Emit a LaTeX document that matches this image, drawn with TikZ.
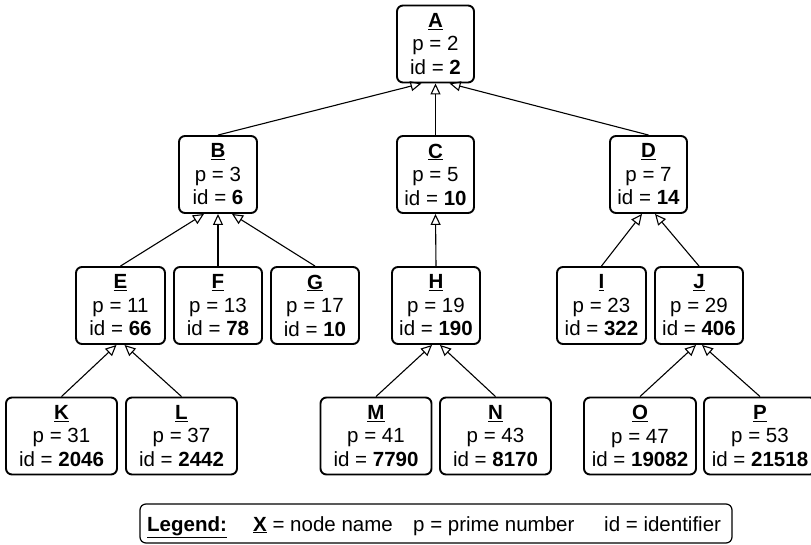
\documentclass[tikz,border=0pt]{standalone}
\usepackage{fontspec}
\setmainfont{Liberation Sans}
\usetikzlibrary{arrows.meta}

\newcommand{\treebox}[5]{%
  % #1 name, #2 x, #3 y, #4 width, #5 p and id
  \node[treenode, minimum width=#4pt] (#1) at (#2,#3) {#5};}
\newcommand{\nodetext}[3]{\underline{\textbf{#1}}\\p = #2\\id = \textbf{#3}}

\begin{document}
\begin{tikzpicture}[x=1pt, y=-1pt,
  treenode/.style={draw, line width=1.9pt, rounded corners=6pt,
    minimum height=77pt, inner sep=0pt, align=center,
    font=\fontsize{20.5}{23.5}\selectfont},
  edge/.style={line width=1.1pt, -{Triangle[open, length=11pt, width=10pt, line width=1.1pt]}},
  legendbox/.style={draw, line width=1.2pt, rounded corners=6pt},
  legendtext/.style={anchor=base west, inner sep=0pt, font=\fontsize{20.5}{23.5}\selectfont}]

\useasboundingbox (0,0) rectangle (811,545);

% root
\treebox{A}{435.5}{44}{77}{\nodetext{A}{2}{2}}
% second level
\treebox{B}{218}{174.5}{78}{\nodetext{B}{3}{6}}
\treebox{C}{435.5}{174.5}{77}{\nodetext{C}{5}{10}}
\treebox{D}{648.5}{174.5}{77}{\nodetext{D}{7}{14}}
% third level
\treebox{E}{120.5}{305.5}{89}{\nodetext{E}{11}{66}}
\treebox{F}{218}{305.5}{88}{\nodetext{F}{13}{78}}
\treebox{G}{315}{305.5}{88}{\nodetext{G}{17}{10}}
\treebox{H}{436}{305.5}{88}{\nodetext{H}{19}{190}}
\treebox{I}{601.5}{305.5}{89}{\nodetext{I}{23}{322}}
\treebox{J}{699}{305.5}{88}{\nodetext{J}{29}{406}}
% leaves
\treebox{K}{61.5}{436}{111}{\nodetext{K}{31}{2046}}
\treebox{L}{181.5}{436}{111}{\nodetext{L}{37}{2442}}
\treebox{M}{376}{436}{111}{\nodetext{M}{41}{7790}}
\treebox{N}{495.5}{436}{111}{\nodetext{N}{43}{8170}}
\treebox{O}{640}{436}{112}{\nodetext{O}{47}{19082}}
\treebox{P}{760}{436}{112}{\nodetext{P}{53}{21518}}

% parent links
\draw[edge] (B.north) -- ([xshift=-14pt]A.south);
\draw[edge] (C.north) -- (A.south);
\draw[edge] (D.north) -- ([xshift=14pt]A.south);

\draw[edge] (E.north) -- ([xshift=-14pt]B.south);
\draw[edge] (F.north) -- (B.south);
\draw[edge] (G.north) -- ([xshift=14pt]B.south);

\draw[edge] (H.north) -- (C.south);

\draw[edge] (I.north) -- ([xshift=-6.5pt]D.south);
\draw[edge] (J.north) -- ([xshift=6.5pt]D.south);

\draw[edge] (K.north) -- ([xshift=-4pt]E.south);
\draw[edge] (L.north) -- ([xshift=4pt]E.south);

\draw[edge] (M.north) -- ([xshift=-4pt]H.south);
\draw[edge] (N.north) -- ([xshift=4pt]H.south);

\draw[edge] (O.north) -- ([xshift=-3pt]J.south);
\draw[edge] (P.north) -- ([xshift=3pt]J.south);

% legend
\node[legendbox, minimum width=592pt, minimum height=39pt] (legend) at (436,523.5) {};
\node[legendtext] (lg1) at (147,531) {\underline{\textbf{Legend:}}};
\node[legendtext] (lg2) at (253,531) {\underline{\textbf{X}} = node name};
\node[legendtext] (lg3) at (413,531) {p = prime number};
\node[legendtext] (lg4) at (604,531) {id = identifier};
\end{tikzpicture}
\end{document}
